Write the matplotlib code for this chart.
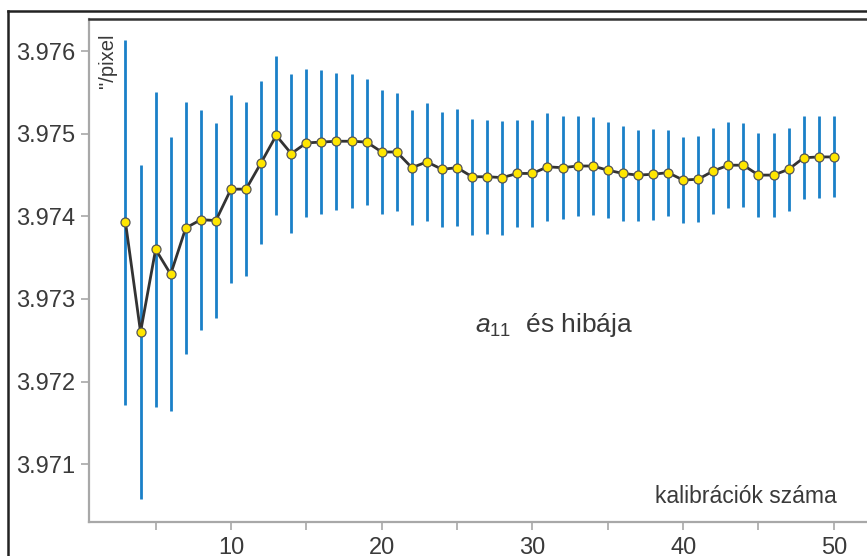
import matplotlib.pyplot as plt
import matplotlib.ticker as ticker
from matplotlib.lines import Line2D

# calibration count and a11 value with its error
n_calib = list(range(3, 51))
a11 = [3.97393, 3.97260, 3.97360, 3.97330, 3.97386, 3.97396, 3.97395, 3.97433, 3.97433, 3.97465,
       3.97498, 3.97476, 3.97489, 3.97490, 3.97491, 3.97491, 3.97490, 3.97478, 3.97478, 3.97459,
       3.97466, 3.97457, 3.97459, 3.97448, 3.97448, 3.97447, 3.97452, 3.97452, 3.97460, 3.97459,
       3.97461, 3.97461, 3.97456, 3.97452, 3.97450, 3.97451, 3.97453, 3.97444, 3.97445, 3.97455,
       3.97462, 3.97462, 3.97450, 3.97450, 3.97457, 3.97471, 3.97472, 3.97472]
a11_err = [0.00221, 0.00202, 0.00191, 0.00166, 0.00152, 0.00133, 0.00118, 0.00114, 0.00105, 0.00099,
           0.00096, 0.00096, 0.00090, 0.00087, 0.00083, 0.00081, 0.00076, 0.00075, 0.00071, 0.00070,
           0.00071, 0.00070, 0.00071, 0.00070, 0.00069, 0.00069, 0.00065, 0.00065, 0.00065, 0.00062,
           0.00060, 0.00059, 0.00058, 0.00057, 0.00055, 0.00055, 0.00052, 0.00052, 0.00052, 0.00052,
           0.00052, 0.00051, 0.00051, 0.00051, 0.00050, 0.00050, 0.00050, 0.00049]

x_ticks = [5, 10, 15, 20, 25, 30, 35, 40, 45, 50]
y_ticks = [3.971, 3.972, 3.973, 3.974, 3.975, 3.976]

plt.rcParams['font.family'] = 'Liberation Sans'
plt.rcParams['mathtext.fontset'] = 'custom'
plt.rcParams['mathtext.rm'] = 'Liberation Sans'
plt.rcParams['mathtext.it'] = 'Liberation Sans:italic'

txt = '#3a3a3a'
spine_gray = '#a8a8a8'

fig = plt.figure(figsize=(8.67, 5.56), dpi=100)
W, H = 867, 556
ax = fig.add_axes([89 / W, (H - 522) / H, (W - 89) / W, (522 - 19) / H])

ax.errorbar(n_calib, a11, yerr=a11_err, fmt='none', ecolor='#1a80c8', elinewidth=2.0, capsize=0, zorder=2)
ax.plot(n_calib, a11, color='#333333', lw=2.0, marker='o', ms=6.5, mfc='#ffe600', mec='#555555',
        mew=0.9, zorder=3)

ax.set_xlim(0.58, 52.2)
ax.set_ylim(3.97030, 3.97639)

ax.set_xticks(x_ticks)
ax.set_xticklabels([str(t) if t % 10 == 0 else '' for t in x_ticks])
ax.set_yticks(y_ticks)
ax.yaxis.set_major_formatter(ticker.FormatStrFormatter('%.3f'))
ax.tick_params(axis='both', colors=spine_gray, labelcolor=txt, labelsize=17, length=6, width=1.2)
ax.tick_params(axis='y', pad=4)
ax.tick_params(axis='x', pad=5)

ax.spines['right'].set_visible(False)
ax.spines['left'].set_color(spine_gray)
ax.spines['bottom'].set_color(spine_gray)
ax.spines['left'].set_linewidth(1.6)
ax.spines['bottom'].set_linewidth(1.6)
ax.spines['top'].set_color('#333333')
ax.spines['top'].set_linewidth(1.8)

ax.text(0.012, 0.972, '"/pixel', transform=ax.transAxes, rotation=90, ha='left', va='top',
        fontsize=14.5, color=txt)
ax.text(26.2, 3.97260, r'$a_{11}$  és hibája', ha='left', va='baseline', fontsize=19, color=txt)
ax.text(50.2, 3.97053, 'kalibrációk száma', ha='right', va='baseline', fontsize=16.5, color=txt)

# outer frame of the figure (only top and left are in view)
fig.add_artist(Line2D([8 / W, 8 / W], [0, 1 - 11 / H], transform=fig.transFigure, color='#222222', lw=1.8))
fig.add_artist(Line2D([8 / W, 1], [1 - 11 / H, 1 - 11 / H], transform=fig.transFigure, color='#222222', lw=1.8))

fig.savefig('out.png', dpi=100)
